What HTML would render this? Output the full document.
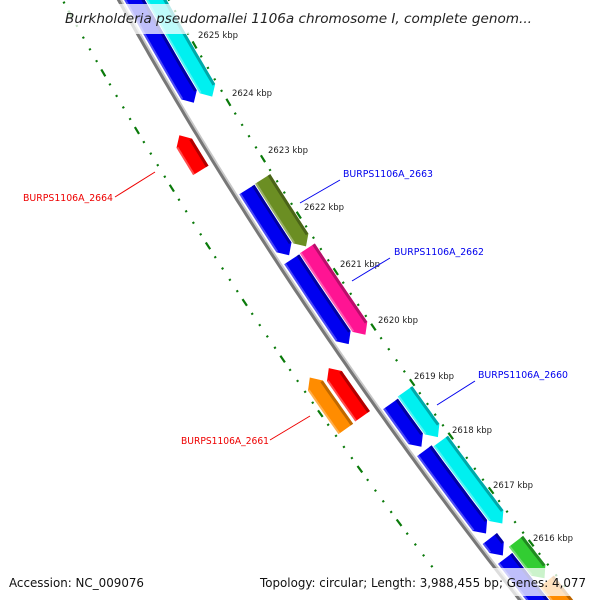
<!DOCTYPE html>
<html><head><meta charset="utf-8"><style>
html,body{margin:0;padding:0;background:#fff;width:600px;height:600px;overflow:hidden}
svg{display:block}
text{font-family:"DejaVu Sans","Liberation Sans",sans-serif}
</style></head><body>
<svg id="s" width="600" height="600" viewBox="0 0 600 600" xmlns="http://www.w3.org/2000/svg">
<g id="g"></g>
<rect x="0" y="4" width="600" height="30" fill="#fff" fill-opacity="0.75"/>
<text x="65" y="23" font-size="13.5" font-style="italic" fill="#222" textLength="467" lengthAdjust="spacingAndGlyphs">Burkholderia pseudomallei 1106a chromosome I, complete genom...</text>
<rect x="0" y="568" width="600" height="28" fill="#fff" fill-opacity="0.75"/>
<text x="9" y="587" font-size="12.5" fill="#111" textLength="135" lengthAdjust="spacingAndGlyphs">Accession: NC_009076</text>
<text x="260" y="587" font-size="12.5" fill="#111" textLength="326" lengthAdjust="spacingAndGlyphs">Topology: circular; Length: 3,988,455 bp; Genes: 4,077</text>
<g font-size="8.5" fill="#222">
<text x="198" y="38">2625 kbp</text><text x="232" y="96">2624 kbp</text><text x="268" y="153">2623 kbp</text>
<text x="304" y="210">2622 kbp</text><text x="340" y="267">2621 kbp</text><text x="378" y="323">2620 kbp</text>
<text x="414" y="379">2619 kbp</text><text x="452" y="433">2618 kbp</text><text x="493" y="488">2617 kbp</text>
<text x="533" y="541">2616 kbp</text>
</g>
<g font-size="10">
<text x="343" y="177" fill="#0000ee" textLength="90" lengthAdjust="spacingAndGlyphs">BURPS1106A_2663</text>
<text x="394" y="255" fill="#0000ee" textLength="90" lengthAdjust="spacingAndGlyphs">BURPS1106A_2662</text>
<text x="478" y="378" fill="#0000ee" textLength="90" lengthAdjust="spacingAndGlyphs">BURPS1106A_2660</text>
<text x="23" y="201" fill="#ee0000" textLength="90" lengthAdjust="spacingAndGlyphs">BURPS1106A_2664</text>
<text x="181" y="444" fill="#ee0000" textLength="88" lengthAdjust="spacingAndGlyphs">BURPS1106A_2661</text>
</g>
<g stroke-width="1">
<line x1="340" y1="180" x2="300" y2="203" stroke="#0000ee"/>
<line x1="390" y1="258" x2="352" y2="281" stroke="#0000ee"/>
<line x1="475" y1="381" x2="437" y2="405" stroke="#0000ee"/>
<line x1="115" y1="197" x2="155" y2="172" stroke="#ee0000"/>
<line x1="270" y1="440" x2="310" y2="416" stroke="#ee0000"/>
</g>
</svg>
<script>
(function(){
var NS="http://www.w3.org/2000/svg",g=document.getElementById("g");
function bx(y){return 118.5+0.554*y+0.000191*y*y;}
function sl(y){return 0.554+0.000382*y;}
function pt(y,d){var s=sl(y),n=Math.sqrt(1+s*s);return [bx(y)+d/n, y - s*d/n];}
function el(t,a){var e=document.createElementNS(NS,t);for(var k in a)e.setAttribute(k,a[k]);g.appendChild(e);return e;}
function f(q){return q[0].toFixed(1)+","+q[1].toFixed(1);}
var d1="",d2="";for(var y=-10;y<=620;y+=5){d1+=(y==-10?"M":"L")+f(pt(y,1.8));d2+=(y==-10?"M":"L")+f(pt(y,0));}
el("path",{d:d1,stroke:"#c8c8c8","stroke-width":3,fill:"none"});
el("path",{d:d2,stroke:"#777","stroke-width":3,fill:"none"});
function gene(yi0,yi1,d,c,dk,dir){
 var w=9,ah=8,n=10,i,y;
 var y0=yi0+0.5*d,y1=yi1+0.5*d;
 var a0=y0,a1=y1;
 if(dir>0)a1=y1-ah;else a0=y0+ah;
 var L=[],R=[];
 for(i=0;i<=n;i++){y=a0+(a1-a0)*i/n;L.push(pt(y,d-w));R.push(pt(y,d+w));}
 var p=[];
 if(dir>0){
  for(i=0;i<=n;i++)p.push(L[i]);
  p.push(pt(y1,d));
  for(i=n;i>=0;i--)p.push(R[i]);
 }else{
  p.push(pt(y0,d));
  for(i=0;i<=n;i++)p.push(R[i]);
  for(i=n;i>=0;i--)p.push(L[i]);
 }
 el("polygon",{points:p.map(f).join(" "),fill:c});
 var e="";for(i=0;i<=n;i++){y=a0+(a1-a0)*i/n;e+=(i?"L":"M")+f(pt(y,d+w-1.5));}
 el("path",{d:e,stroke:dk,"stroke-width":3,fill:"none"});
 var e2="";for(i=0;i<=n;i++){y=a0+(a1-a0)*i/n;e2+=(i?"L":"M")+f(pt(y,d-w+1));}
 el("path",{d:e2,stroke:"#fff","stroke-opacity":0.3,"stroke-width":2,fill:"none"});
}
var B="#0000f0",BD="#0000a0",C="#00f0f0",CD="#00a8a8";
gene(-20,103,14,B,BD,1);gene(-20,97,33,C,CD,1);
gene(190,256,14,B,BD,1);gene(260,345,14,B,BD,1);
gene(405,448,14,B,BD,1);gene(452,535,14,B,BD,1);gene(540,557,14,B,BD,1);gene(560,620,14,B,BD,1);
gene(180,248,33,"#6b8e23","#4a6318",1);gene(250,337,33,"#ff1493","#b80e6a",1);
gene(394,440,33,C,CD,1);gene(444,527,33,C,CD,1);gene(545,582,33,"#32cd32","#208a20",1);gene(585,620,33,"#ff8c00","#b86400",1);
gene(135,170,-15,"#ff0000","#b00000",-1);gene(367,415,-16,"#ff0000","#b00000",-1);
gene(375,426,-37,"#ff8c00","#c06800",-1);
var ly=[38,96,153,210,267,323,379,433,488,541];
var maj=ly.map(function(v){return v+7;});
var ys=[];maj.forEach(function(m,i){ys.push([m,1]);var nx=i<maj.length-1?maj[i+1]:m+54;for(var j=1;j<5;j++)ys.push([m+(nx-m)*j/5,0]);});
var pm=maj[0]-57;for(var j=1;j<5;j++)ys.push([pm+57*j/5,0]);
for(var j=0;j<5;j++)ys.push([pm-57+57*j/5,j==0?1:0]);
ys.forEach(function(t){
 var y=t[0],L=t[1]?4:1;
 [[44,0],[-49,-30]].forEach(function(o){
  var yy=y+o[1];if(o[0]<0&&yy>570)return;
  var c=pt(yy+0.5*o[0],o[0]),s=sl(yy),k=L/Math.sqrt(1+s*s);
  el("line",{x1:c[0]-s*k,y1:c[1]-k,x2:c[0]+s*k,y2:c[1]+k,stroke:"#0a7a0a","stroke-width":2.2});
 });
});
})();
</script>
</body></html>
